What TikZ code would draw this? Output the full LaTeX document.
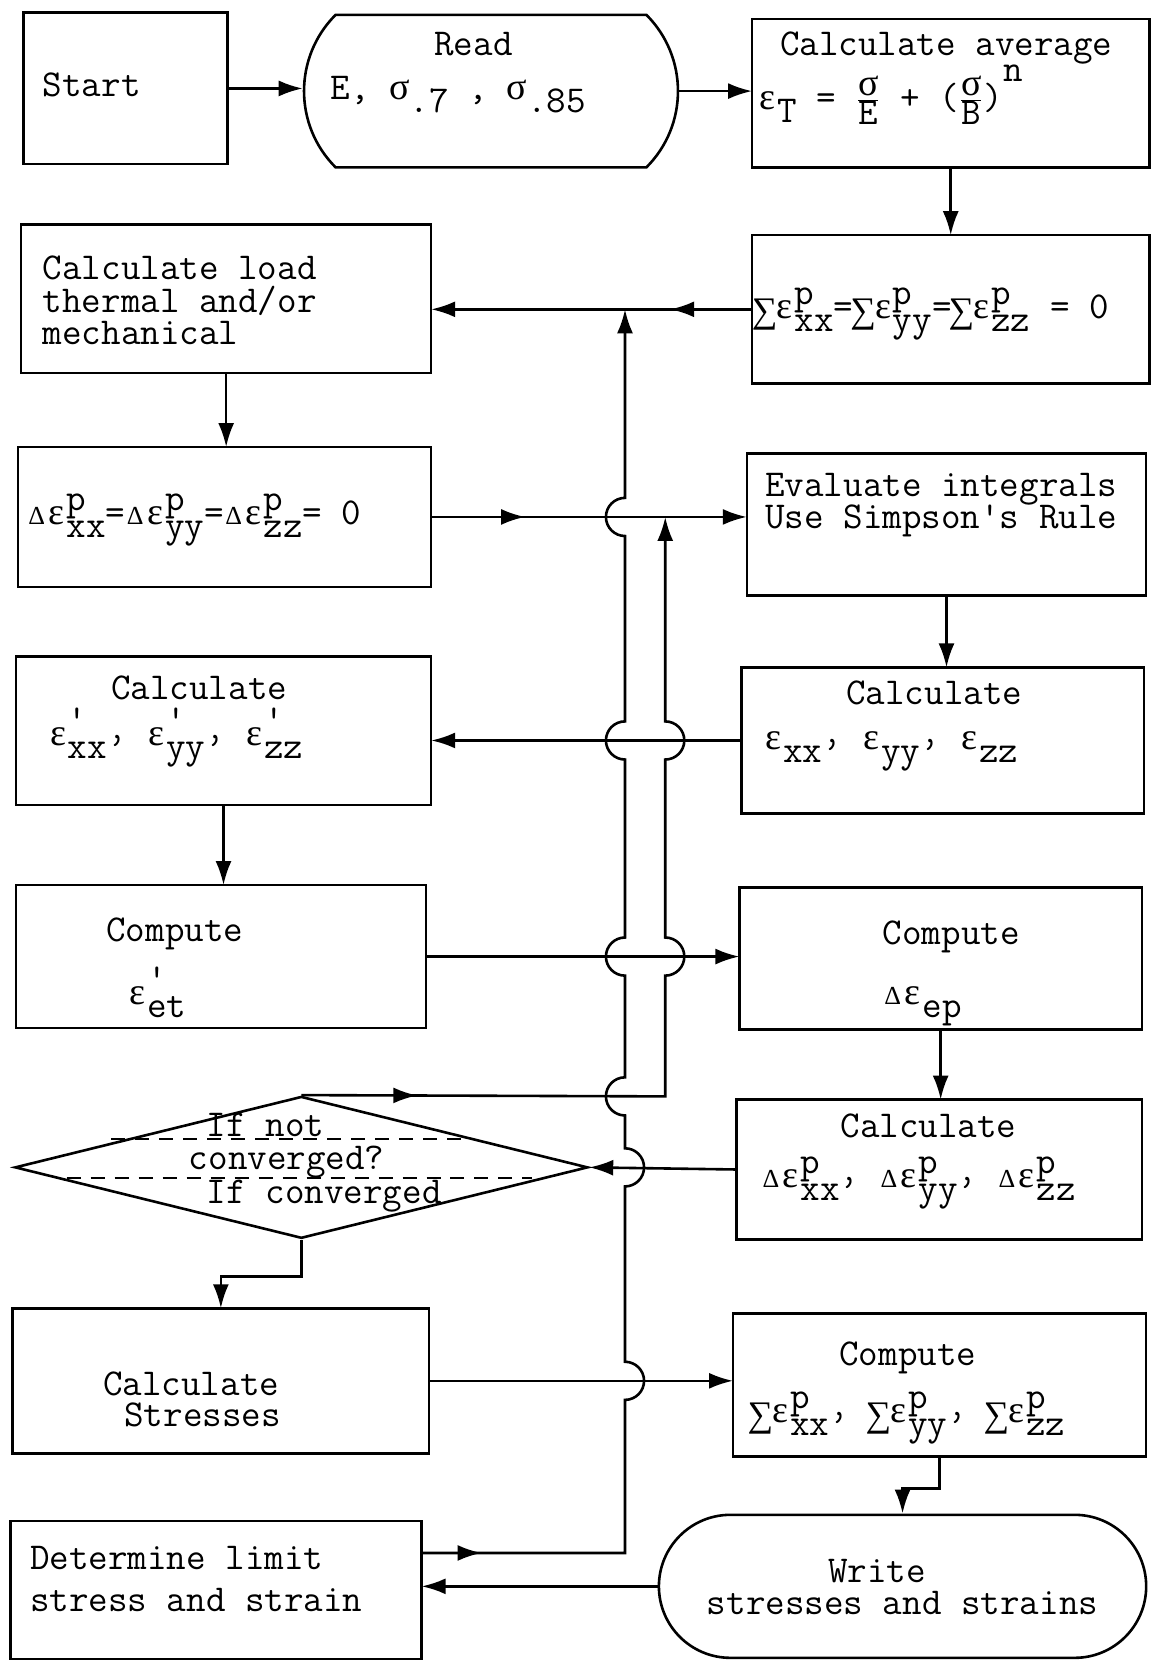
\documentclass[tikz,border=0pt]{standalone}
\usepackage{fontspec}
\newfontfamily\grk{Liberation Serif}
\usetikzlibrary{arrows.meta,shapes.misc,shapes.geometric,decorations.markings}
\newcommand\mytt{\ttfamily\fontsize{19}{16.2}\selectfont}
\newlength\mycw \setlength\mycw{9.96pt}
\newcommand\myup[1]{\raisebox{7pt}{#1}}
\newcommand\mydn[1]{\raisebox{-6.5pt}{#1}}
\newcommand\mypp[2]{\rlap{\myup{#1}}\mydn{#2}}
\newcommand\myE{\makebox[\mycw]{\grk ε}}
\newcommand\myS{\makebox[\mycw]{\grk σ}}
\newcommand\myD{\makebox[\mycw]{\grk\fontsize{13}{13}\selectfont Δ}}
\newcommand\mySg{\makebox[\mycw]{\raisebox{-2pt}{\grk\fontsize{18}{18}\selectfont ∑}}}
\newcommand\myfr[2]{\ensuremath{\frac{\hbox{#1}}{\hbox{#2}}}}
\begin{document}
\begin{tikzpicture}[x=0.53pt,y=-0.53pt,
  box/.style 2 args={draw,line width=1.3pt,minimum width=#1*0.53pt,minimum height=#2*0.53pt,inner sep=0pt,outer sep=0pt},
  tx/.style={font=\mytt,inner sep=0pt,anchor=base west},
  txc/.style={font=\mytt,inner sep=0pt,anchor=base},
  con/.style={line width=1.3pt},
  arr/.style={con,-{Latex[length=12pt,width=8pt]}},
  marr/.style={postaction={decorate},decoration={markings,mark=at position #1 with {\arrow{Latex[length=12pt,width=8pt]}}}},
  dsh/.style={line width=1pt,dash pattern=on 7pt off 5pt}]
\useasboundingbox (0,0) rectangle (1087,1568);
% boxes
\node[box={193}{143}] (start) at (118.5,83.5) {};
\node[draw,line width=1.3pt,rounded rectangle,rounded rectangle arc length=90,minimum width=353*0.53pt,minimum height=144*0.53pt,inner sep=0pt] (read) at (463.5,86) {};
\node[box={375}{140}] (avg) at (897.5,88) {};
\node[box={375}{140}] (sig) at (897.5,292) {};
\node[box={387}{140}] (load) at (213.5,282) {};
\node[box={390}{132}] (dep) at (212,488) {};
\node[box={377}{134}] (eval) at (893.5,495) {};
\node[box={380}{138}] (cal) at (890,699) {};
\node[box={392}{140}] (calp) at (211,690) {};
\node[box={387}{135}] (cmp) at (208.5,903) {};
\node[box={380}{134}] (dep2) at (888,905) {};
\node[box={383}{132}] (cdp) at (886.5,1104) {};
\node[draw,line width=1.3pt,diamond,minimum width=541*0.53pt,minimum height=134*0.53pt,inner sep=0pt] (dia) at (284.5,1102) {};
\node[box={393}{137}] (cs) at (208.5,1303.5) {};
\node[box={390}{135}] (sgm) at (887,1307.5) {};
\node[draw,line width=1.3pt,rounded rectangle,minimum width=460*0.53pt,minimum height=135*0.53pt,inner sep=0pt] (wr) at (852,1497.5) {};
\node[box={388}{130}] (det) at (204,1501) {};
% texts
\node[tx] (tstart) at (40,91) {Start};
\node[txc] (tread) at (447,52) {Read};
\node[tx] (tread2) at (312,94) {E, \myS\mydn{.7} , \myS\mydn{.85}};
\node[tx] (tavg) at (736,52) {Calculate average};
\node[tx] (tavg2) at (715,103) {\myE\mydn{T} = \myfr{\myS}{E} + (\myfr{\myS}{B})\raisebox{14pt}{n}};
\node[tx] (tsig) at (712,301) {\mySg\myE\mypp{p}{xx}=\mySg\myE\mypp{p}{yy}=\mySg\myE\mypp{p}{zz} = 0};
\node[tx] (tload1) at (40,264) {Calculate load};
\node[tx] (tload2) at (40,295) {thermal and/or};
\node[tx] (tload3) at (40,325) {mechanical};
\node[tx] (tdep) at (25,495) {\myD\myE\mypp{p}{xx}=\myD\myE\mypp{p}{yy}=\myD\myE\mypp{p}{zz}= 0};
\node[tx] (teval1) at (722,469) {Evaluate integrals};
\node[tx] (teval2) at (722,499) {Use Simpson's Rule};
\node[txc] (tcal1) at (882,665) {Calculate};
\node[tx] (tcal2) at (720,708) {\myE\mydn{xx’} \myE\mydn{yy’} \myE\mydn{zz}};
\node[txc] (tcalp1) at (188,660) {Calculate};
\node[tx] (tcalp2) at (45,704) {\myE\mypp{'}{xx’} \myE\mypp{'}{yy’} \myE\mypp{'}{zz}};
\node[tx] (tcmp1) at (100,889) {Compute};
\node[tx] (tcmp2) at (120,948) {\myE\mypp{'}{et}};
\node[tx] (tdep21) at (833,892) {Compute};
\node[tx] (tdep22) at (833,948) {\myD\myE\mydn{ep}};
\node[tx] (tcdp1) at (793,1074) {Calculate};
\node[tx] (tcdp2) at (718,1121) {\myD\myE\mypp{p}{xx’} \myD\myE\mypp{p}{yy’} \myD\myE\mypp{p}{zz}};
\node[tx] (tdia1) at (195,1073) {If not};
\node[tx] (tdia2) at (178,1104) {converged?};
\node[tx] (tdia3) at (195,1136) {If converged};
\node[tx] (tcs1) at (97,1317) {Calculate};
\node[tx] (tcs2) at (117,1347) {Stresses};
\node[tx] (tsgm1) at (792,1289) {Compute};
\node[tx] (tsgm2) at (708,1343) {\mySg\myE\mypp{p}{xx’} \mySg\myE\mypp{p}{yy’} \mySg\myE\mypp{p}{zz}};
\node[txc] (twr1) at (828,1494) {Write};
\node[tx] (twr2) at (667,1524) {stresses and strains};
\node[tx] (tdet1) at (28,1482) {Determine limit};
\node[tx] (tdet2) at (28,1521) {stress and strain};
% dashed lines in decision
\draw[dsh] (105,1075) -- (445,1075);
\draw[dsh] (63,1112) -- (502,1112);
% connectors
\draw[arr] (start.east) -- (start.east -| read.west);
\draw[arr] (read.east) -- (read.east -| avg.west);
\draw[arr] (avg.south) -- (sig.north);
\draw[arr,marr=41pt] (sig.west) -- (sig.west -| load.east);
\draw[arr] (load.south) -- (load.south |- dep.north);
\draw[arr,marr=47pt] (dep.east) -- (dep.east -| eval.west);
\draw[arr] (eval.south) -- (eval.south |- cal.north);
\draw[arr] (cal.west) -- (cal.west -| calp.east);
\draw[arr] (calp.south) -- (calp.south |- cmp.north);
\draw[arr] (cmp.east) -- (cmp.east -| dep2.west);
\draw[arr] (dep2.south) -- (dep2.south |- cdp.north);
\draw[arr] (cdp.west) -- (dia.east);
\draw[arr] (dia.south) -- ++(0,35) -| (cs.north);
\draw[arr] (cs.east) -- (cs.east -| sgm.west);
\draw[arr] (sgm.south) -- ++(0,30) -| (wr.north);
\draw[arr] (wr.west) -- (wr.west -| det.east);
% loop back to load (left line)
\draw[arr,marr=30pt] (det.east |- 0,1466) -- (590,1466)
  -- (590,1321.5) arc[start angle=-90,end angle=90,radius=9.54pt]
  -- (590,1120) arc[start angle=-90,end angle=90,radius=9.54pt]
  -- (590,1053) arc[start angle=270,end angle=90,radius=9.54pt]
  -- (590,921) arc[start angle=270,end angle=90,radius=9.54pt]
  -- (590,717) arc[start angle=270,end angle=90,radius=9.54pt]
  -- (590,506) arc[start angle=270,end angle=90,radius=9.54pt]
  -- (590,292);
% not converged: back to integrals (right line)
\draw[arr,marr=58pt] (dia.north) -- (628,1035)
  -- (628,921) arc[start angle=-90,end angle=90,radius=9.54pt]
  -- (628,717) arc[start angle=-90,end angle=90,radius=9.54pt]
  -- (628,488);
\end{tikzpicture}
\end{document}
